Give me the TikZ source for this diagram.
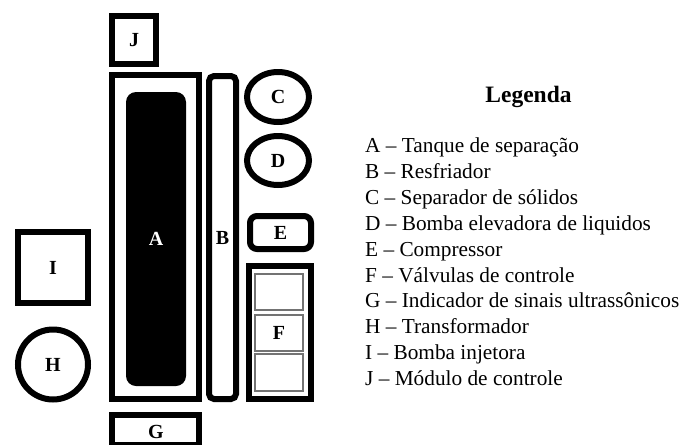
\documentclass[tikz,border=0pt]{standalone}
\usepackage{fontspec}
\setmainfont{Liberation Serif}
\usetikzlibrary{shapes.geometric}
\begin{document}
\begin{tikzpicture}[x=1pt,y=-1pt,
  lab/.style={font=\fontsize{20}{24}\selectfont\bfseries},
  unit/.style={draw=black, line width=6pt, inner sep=0pt, lab},
  valve/.style={draw=black!55, line width=1.2pt, inner sep=0pt, minimum width=48pt, lab},
  legitem/.style={anchor=base west, inner sep=0pt, font=\fontsize{21.3}{25}\selectfont},
  legtitle/.style={inner sep=0pt, font=\fontsize{23.5}{28}\selectfont\bfseries}]
\useasboundingbox (0,0) rectangle (681,445);
% equipment
\node[unit, minimum width=44pt, minimum height=48pt] (J) at (134,40) {J};
\node[unit, minimum width=87pt, minimum height=324pt] (Aout) at (155.5,237) {};
\node[fill=black, rounded corners=10pt, minimum width=60pt, minimum height=294pt, inner sep=0pt, text=white, lab] (A) at (156,239) {A};
\node[unit, rounded corners=5pt, minimum width=27pt, minimum height=323pt] (B) at (222.5,237.5) {B};
\node[unit, ellipse, minimum width=62pt, minimum height=50pt] (C) at (278,97) {C};
\node[unit, ellipse, minimum width=62pt, minimum height=49pt] (D) at (278,160.5) {D};
\node[unit, rounded corners=7pt, minimum width=61pt, minimum height=33pt] (E) at (280.5,232.5) {E};
\node[unit, minimum width=62pt, minimum height=133pt] (Fout) at (280,332.5) {};
\node[valve, minimum height=36pt] (F1) at (279,292) {};
\node[valve, minimum height=36pt] (F) at (279,333) {F};
\node[valve, minimum height=37pt] (F3) at (279,372.5) {};
\node[unit, minimum width=70pt, minimum height=71pt] (I) at (53,267.5) {I};
\node[unit, circle, minimum size=70pt] (H) at (53,364.5) {H};
\node[unit, minimum width=87pt, minimum height=30pt] (G) at (155.5,430) {};
\node[lab, inner sep=0pt] (Glab) at (156,432) {G};
% legend
\node[legtitle] (title) at (528.5,97) {Legenda};
\node[legitem] (LA) at (365,152.5) {A – Tanque de separação};
\node[legitem] (LB) at (365,178.4) {B – Resfriador};
\node[legitem] (LC) at (365,204.3) {C – Separador de sólidos};
\node[legitem] (LD) at (365,230.2) {D – Bomba elevadora de liquidos};
\node[legitem] (LE) at (365,256.1) {E – Compressor};
\node[legitem] (LF) at (365,282) {F – Válvulas de controle};
\node[legitem] (LG) at (365,307.9) {G – Indicador de sinais ultrassônicos};
\node[legitem] (LH) at (365,333.8) {H – Transformador};
\node[legitem] (LI) at (365,359.7) {I – Bomba injetora};
\node[legitem] (LJ) at (365,385.6) {J – Módulo de controle};
\end{tikzpicture}
\end{document}
